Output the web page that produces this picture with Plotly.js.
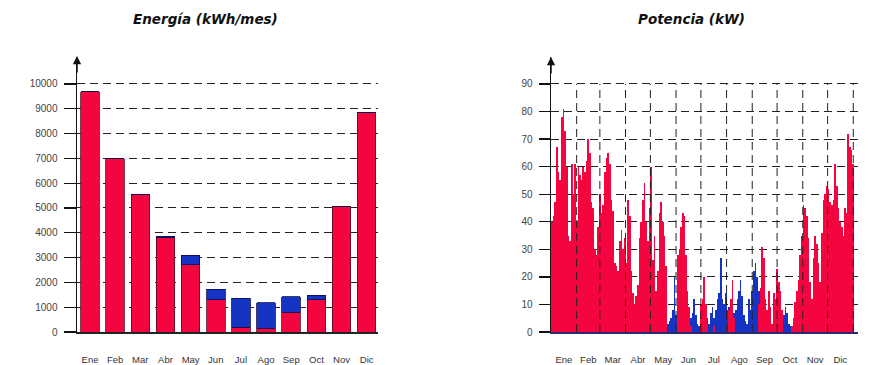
<!DOCTYPE html>
<html>
<head>
<meta charset="utf-8">
<script src="https://cdn.plot.ly/plotly-3.0.1.min.js"></script>
<style>html,body{margin:0;padding:0;background:#fff;}#chart{width:875px;height:365px;}</style>
</head>
<body>
<div id="chart"></div>
<script>
// ---- Energy chart (kWh/mes) ----
const months = ["Ene","Feb","Mar","Abr","May","Jun","Jul","Ago","Sep","Oct","Nov","Dic"];
const energyRed  = [9680, 6990, 5540, 3820, 2715, 1300, 200, 160, 790, 1300, 5070, 8840];
const energyBlue = [0, 0, 0, 40, 375, 420, 1170, 1020, 635, 180, 0, 0];
const energyTicks = [0,1000,2000,3000,4000,5000,6000,7000,8000,9000,10000];

// ---- Power chart (kW), one value per 2-day step starting at day 0 ----
const powerRed = [
 40,42,47,67,58,55,78,81,73,60, 35,33,61,50,61,40,60,57,55,60,
 58,62,70,65,47,45,30,28,38,50, 43,46,58,63,65,61,48,44,25,24,
 22,33,37,30,34,25,48,42,22,14, 10,13,17,34,40,48,54,40,33,45,
 60,26,35,15,22,43,47,40,35,24, 0,0,0,0,0,0,28,30,38,43,
 42,28,15,9,2,0,0,0,0,0, 10,12,20,10,3,0,0,0,2,0,
 0,0,0,0,0,0,0,8,12,19, 5,0,0,0,0,0,0,0,0,0,
 0,0,0,0,0,10,16,31,27,12, 8,15,9,3,14,12,23,18,15,8,
 0,0,0,0,0,2,5,11,15,19, 28,35,46,45,42,34,18,12,27,35,
 32,25,18,36,48,50,53,52,47,46, 48,61,53,45,40,38,35,45,43,72,
 67,66,61
];
const powerBlue = [
 0,0,0,0,0,0,0,0,0,0, 0,0,0,0,0,0,0,0,0,0,
 0,0,0,0,0,0,0,0,0,0, 0,0,0,0,0,0,0,0,0,0,
 0,0,0,0,0,0,0,0,0,0, 0,0,0,0,0,0,0,0,0,0,
 0,0,0,0,0,0,0,0,0,0, 3,4,5,8,20,6,0,0,0,0,
 0,0,0,0,3,7,12,6,3,2, 0,0,0,0,2,3,7,9,3,8,
 12,14,27,12,10,14,8,1,0,0, 2,8,12,15,19,13,6,4,3,12,
 8,15,22,25,20,5,0,0,0,0, 0,0,0,0,0,0,0,0,0,0,
 6,9,7,3,2,0,0,0,0,0, 0,0,0,0,0,0,0,0,0,0,
 0,0,0,0,0,0,0,0,0,0, 0,0,0,0,0,0,0,0,0,0,
 0,0,0
];
const powerTicks = [0,10,20,30,40,50,60,70,80,90];
const monthDays = [31,28,31,30,31,30,31,31,30,31,30,31];

const RED = '#F5053F';
const BLUE = '#1634C4';

const days = powerRed.map((_, i) => i * 2);
const monthEnds = []; const monthMids = [];
let acc = 0;
monthDays.forEach(n => { monthMids.push(acc + n / 2); acc += n; monthEnds.push(acc); });

const traces = [
  {type:'bar', x: months, y: energyRed, xaxis:'x', yaxis:'y', marker:{color:RED, line:{color:'#5a0a20', width:0.8}}, hoverinfo:'y'},
  {type:'bar', x: months, y: energyBlue, xaxis:'x', yaxis:'y', marker:{color:BLUE, line:{color:'#0a0a50', width:0.8}}, hoverinfo:'y'},
  {type:'bar', x: days, y: powerRed, width: 2, offset: 0, xaxis:'x2', yaxis:'y2', marker:{color:RED, line:{width:0}}, hoverinfo:'y'},
  {type:'bar', x: days, y: powerBlue, width: 2, offset: 0, xaxis:'x2', yaxis:'y2', marker:{color:BLUE, line:{width:0}}, hoverinfo:'y'}
];

const yDom = [0.0904, 0.8425];
const tickFont = {family:'Liberation Sans, Arial, sans-serif', size:10, color:'#444'};
const xFont = {family:'Liberation Sans, Arial, sans-serif', size:9.5, color:'#333'};
const gridStyle = {showgrid:true, gridcolor:'#222', griddash:'8px,5px', gridwidth:1};

const shapes = monthEnds.map(d => ({
  type:'line', xref:'x2', yref:'y2', x0:d, x1:d, y0:0, y1:90,
  line:{color:'#222', width:1, dash:'8px,5px'}, layer:'above'
}));

const titleFont = {family:'DejaVu Sans, Verdana, sans-serif', size:13.5, color:'#111', weight:'bold', style:'italic'};

const layout = {
  width:875, height:365,
  margin:{l:0, r:0, t:0, b:0},
  paper_bgcolor:'#fff', plot_bgcolor:'#fff',
  barmode:'stack', bargap:0.265,
  showlegend:false,
  xaxis:{domain:[77/875, 378/875], anchor:'y', type:'category', range:[-0.517, 11.45],
    showline:true, linecolor:'#222', linewidth:1.5, ticks:'outside', ticklen:18, tickcolor:'rgba(0,0,0,0)',
    tickfont:xFont, showgrid:false, zeroline:false, fixedrange:true},
  yaxis:Object.assign({domain:yDom, anchor:'x', range:[0, 11069], tickvals:energyTicks, tickformat:'d',
    showline:true, linecolor:'#111', linewidth:1.5, ticks:'outside', ticklen:12, tickwidth:1.3, tickcolor:'#111',
    tickfont:tickFont, ticklabelstandoff:4, zeroline:false, fixedrange:true}, gridStyle),
  xaxis2:{domain:[551/875, 858/875], anchor:'y2', range:[0, 370.7], tickvals:monthMids, ticktext:months,
    showline:true, linecolor:'#2a2a6e', linewidth:1.5, ticks:'outside', ticklen:18, tickcolor:'rgba(0,0,0,0)',
    tickfont:xFont, showgrid:false, zeroline:false, fixedrange:true},
  yaxis2:Object.assign({domain:yDom, anchor:'x2', range:[0, 99.6], tickvals:powerTicks, tickformat:'d',
    showline:true, linecolor:'#111', linewidth:1.5, ticks:'outside', ticklen:11, tickwidth:1.3, tickcolor:'#111',
    tickfont:tickFont, ticklabelstandoff:4, zeroline:false, fixedrange:true}, gridStyle),
  shapes: shapes,
  annotations:[
    {xref:'paper', yref:'paper', x:205/875, y:1-19/365, text:'Energía (kWh/mes)', showarrow:false, font:titleFont, xanchor:'center', yanchor:'middle'},
    {xref:'paper', yref:'paper', x:691/875, y:1-19/365, text:'Potencia (kW)', showarrow:false, font:titleFont, xanchor:'center', yanchor:'middle'},
    {xref:'paper', yref:'paper', x:77/875, y:1-56/365, ax:0, ay:18, text:'', showarrow:true, arrowhead:2, arrowsize:1.1, arrowwidth:1.5, arrowcolor:'#111'},
    {xref:'paper', yref:'paper', x:551/875, y:1-57/365, ax:0, ay:18, text:'', showarrow:true, arrowhead:2, arrowsize:1.1, arrowwidth:1.5, arrowcolor:'#111'}
  ]
};

Plotly.newPlot('chart', traces, layout, {staticPlot:true, displayModeBar:false});
</script>
</body>
</html>
